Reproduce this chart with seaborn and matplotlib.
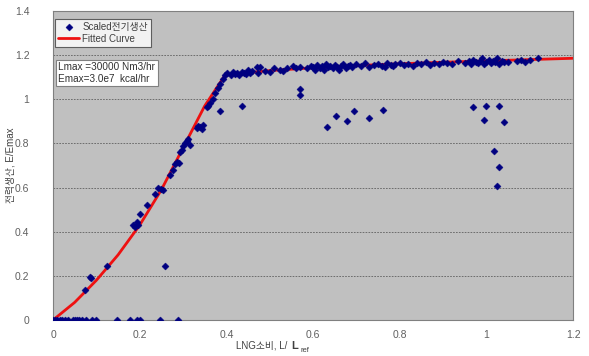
import numpy as np
import pandas as pd
import matplotlib
matplotlib.use("Agg")
import matplotlib.pyplot as plt
import seaborn as sns

# ── Data ──────────────────────────────────────────────────────────────────────
# points sitting on y = 0 (off-line operation)
zero_x = [0.0, 0.005, 0.01, 0.015, 0.02, 0.028, 0.035, 0.046, 0.05, 0.055, 0.06,
          0.068, 0.076, 0.09, 0.10, 0.148, 0.178, 0.194, 0.20, 0.247, 0.289]
zero_y = [0.0] * len(zero_x)

# points along the rising part
rise_x = [0.074, 0.085, 0.088, 0.125, 0.185, 0.19, 0.194, 0.196, 0.20, 0.217,
          0.236, 0.243, 0.249, 0.254, 0.27, 0.277, 0.282, 0.286, 0.29, 0.293,
          0.298, 0.30, 0.305, 0.309, 0.312, 0.316, 0.333, 0.335, 0.34, 0.344,
          0.347, 0.355, 0.358, 0.363, 0.368, 0.374, 0.38, 0.385, 0.392, 0.397, 0.402]
rise_y = [0.136, 0.195, 0.19, 0.245, 0.43, 0.42, 0.445, 0.43, 0.48, 0.52,
          0.57, 0.60, 0.595, 0.59, 0.655, 0.68, 0.705, 0.715, 0.71, 0.76,
          0.77, 0.79, 0.80, 0.81, 0.82, 0.795, 0.87, 0.88, 0.875, 0.865,
          0.885, 0.965, 0.97, 0.985, 1.0, 1.03, 1.05, 1.07, 1.09, 1.11, 1.12]

# plateau points
flat_x = [0.41, 0.415, 0.42, 0.425, 0.43, 0.435, 0.44, 0.445, 0.45, 0.455, 0.46,
          0.47, 0.473, 0.478, 0.49, 0.50, 0.51, 0.524, 0.53, 0.54, 0.554, 0.56,
          0.57, 0.587, 0.595, 0.60, 0.605, 0.61, 0.615, 0.62, 0.625, 0.63, 0.635,
          0.64, 0.645, 0.65, 0.655, 0.66, 0.665, 0.67, 0.675, 0.68, 0.685, 0.69,
          0.70, 0.71, 0.72, 0.73, 0.74, 0.75, 0.76, 0.765, 0.77, 0.78, 0.785,
          0.79, 0.80, 0.81, 0.82, 0.83, 0.84, 0.85, 0.86, 0.87, 0.88, 0.89,
          0.90, 0.91, 0.92, 0.935, 0.95, 0.96, 0.965, 0.97, 0.975, 0.98, 0.985,
          0.99, 0.995, 1.0, 1.005, 1.01, 1.015, 1.02, 1.025, 1.03, 1.035, 1.04,
          1.05, 1.07, 1.08, 1.09, 1.10, 1.12]
flat_y = [1.11, 1.125, 1.115, 1.12, 1.11, 1.125, 1.12, 1.115, 1.135, 1.12, 1.13,
          1.145, 1.12, 1.145, 1.13, 1.125, 1.14, 1.135, 1.13, 1.14, 1.15, 1.14,
          1.145, 1.14, 1.15, 1.145, 1.135, 1.155, 1.14, 1.15, 1.135, 1.16, 1.145,
          1.15, 1.14, 1.155, 1.145, 1.135, 1.15, 1.16, 1.14, 1.15, 1.155, 1.145,
          1.16, 1.15, 1.165, 1.145, 1.155, 1.16, 1.15, 1.145, 1.165, 1.155, 1.15,
          1.16, 1.165, 1.155, 1.16, 1.15, 1.165, 1.16, 1.17, 1.155, 1.165, 1.16,
          1.17, 1.165, 1.16, 1.175, 1.165, 1.175, 1.16, 1.18, 1.17, 1.165, 1.175,
          1.185, 1.16, 1.17, 1.18, 1.165, 1.175, 1.17, 1.185, 1.16, 1.175, 1.17,
          1.17, 1.175, 1.18, 1.17, 1.18, 1.185]

# scattered low outliers
out_x = [0.259, 0.386, 0.436, 0.57, 0.57, 0.633, 0.654, 0.679, 0.695, 0.73,
         0.762, 0.97, 0.998, 1.028, 0.995, 1.04, 1.018, 1.028, 1.025]
out_y = [0.245, 0.945, 0.97, 1.045, 1.02, 0.873, 0.923, 0.90, 0.945, 0.915,
         0.95, 0.963, 0.968, 0.968, 0.905, 0.896, 0.764, 0.695, 0.609]

# fitted curve
fit_x = [0.0, 0.05, 0.10, 0.15, 0.20, 0.25, 0.30, 0.35, 0.397, 0.5, 0.6, 0.7,
         0.8, 0.9, 1.0, 1.1, 1.2]
fit_y = [0.0, 0.08, 0.18, 0.295, 0.43, 0.59, 0.78, 0.97, 1.11, 1.13, 1.143,
         1.153, 1.161, 1.168, 1.174, 1.18, 1.186]

x_ticks = [0, 0.2, 0.4, 0.6, 0.8, 1, 1.2]
y_ticks = [0, 0.2, 0.4, 0.6, 0.8, 1, 1.2, 1.4]


sns.set_style("white")
plt.rcParams["font.family"] = ["Liberation Sans", "Noto Sans CJK KR", "DejaVu Sans"]

scatter_df = pd.DataFrame({
    "x": zero_x + rise_x + flat_x + out_x,
    "y": zero_y + rise_y + flat_y + out_y,
})
fit_df = pd.DataFrame({"x": fit_x, "y": fit_y})

fig = plt.figure(figsize=(5.89, 3.56), dpi=100)
ax = fig.add_axes([0.09, 0.101, 0.883, 0.868])
ax.set_facecolor("#C0C0C0")

sns.scatterplot(data=scatter_df, x="x", y="y", ax=ax, marker="D", s=13,
                color="#000080", edgecolor="#000080", linewidth=0.3,
                label="Scaled전기생산", zorder=3)
sns.lineplot(data=fit_df, x="x", y="y", ax=ax, color="#EE1111", linewidth=2,
             sort=False, estimator=None, label="Fitted Curve", zorder=2)

ax.set_xlim(0, 1.2)
ax.set_ylim(0, 1.4)
ax.set_xticks(x_ticks)
ax.set_yticks(y_ticks)
ax.set_xticklabels([f"{t:g}" for t in x_ticks])
ax.set_yticklabels([f"{t:g}" for t in y_ticks])
ax.tick_params(axis="both", labelsize=7.5, colors="#606060", length=3,
               width=0.6, direction="out", pad=4)
ax.tick_params(axis="y", pad=14)

ax.grid(axis="y", color="#606060", linestyle=(0, (2, 1.5)), linewidth=0.6)
ax.grid(axis="x", visible=False)
ax.set_axisbelow(True)
for side in ["left", "bottom", "right", "top"]:
    ax.spines[side].set_color("#808080")
    ax.spines[side].set_linewidth(0.8)

# x label built from pieces so the subscript works with Korean text
ax.set_xlabel("")
fig.text(0.493, 0.02, "LNG소비, L/ ", fontsize=7, color="#404040",
         ha="right", va="baseline")
fig.text(0.495, 0.02, "L", fontsize=8, color="#404040", fontweight="bold",
         ha="left", va="baseline")
fig.text(0.511, 0.011, "ref", fontsize=5.5, color="#404040",
         ha="left", va="baseline")
ax.set_ylabel("전력생산, E/Emax", fontsize=7, color="#404040")
ax.yaxis.set_label_coords(-0.072, 0.5)

leg = ax.legend(loc="upper left", bbox_to_anchor=(0.004, 0.975), fontsize=7,
                frameon=True, fancybox=False, borderpad=0.3, labelspacing=0.2,
                handlelength=2.2, handletextpad=0.3, borderaxespad=0)
leg.get_frame().set_edgecolor("#404040")
leg.get_frame().set_linewidth(0.8)
for txt in leg.get_texts():
    txt.set_color("#404040")

ax.text(0.01, 0.835, "Lmax =30000 Nm3/hr\nEmax=3.0e7  kcal/hr",
        transform=ax.transAxes, fontsize=7.2, color="#303030", va="top",
        ha="left", linespacing=1.2,
        bbox=dict(boxstyle="square,pad=0.25", facecolor="white",
                  edgecolor="#808080", linewidth=0.8))

plt.savefig("out.png", dpi=100)
plt.close()
